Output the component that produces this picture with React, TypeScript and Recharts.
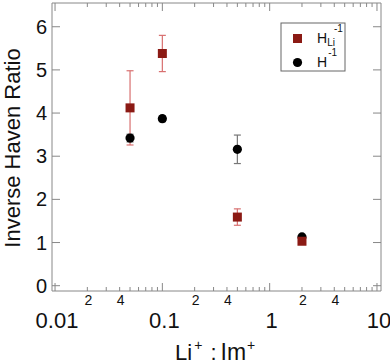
import React from 'react';
import { ScatterChart, Scatter, XAxis, YAxis, ErrorBar } from 'recharts';

const ratios = [0.05, 0.1, 0.5, 2];
const hLiValues = [4.12, 5.38, 1.59, 1.03];
const hLiErrors = [0.86, 0.42, 0.19, 0.03];
const hValues = [3.42, 3.87, 3.16, 1.13];
const hErrors = [0.09, 0.07, 0.33, 0.02];

const majorXTicks = [0.01, 0.1, 1, 10];
const xTicks = [
  0.01, 0.02, 0.03, 0.04, 0.05, 0.06, 0.07, 0.08, 0.09,
  0.1, 0.2, 0.3, 0.4, 0.5, 0.6, 0.7, 0.8, 0.9,
  1, 2, 3, 4, 5, 6, 7, 8, 9, 10,
];
const minorXLabels: Record<string, string> = { '0.02': '2', '0.04': '4', '0.2': '2', '0.4': '4', '2': '2', '4': '4' };
const yTicks = [0, 1, 2, 3, 4, 5, 6];

const xAxisTitle = 'Li';
const yAxisTitle = 'Inverse Haven Ratio';

const hLiData = ratios.map((r, i) => ({ x: r, y: hLiValues[i], err: hLiErrors[i] }));
const hData = ratios.map((r, i) => ({ x: r, y: hValues[i], err: hErrors[i] }));

const FONT = '"Liberation Sans", Arial, Helvetica, sans-serif';
const AXIS = '#888';
const RED = '#8b1a14';
const RED_ERR = '#d87070';
const GRAY_ERR = '#777';

const X_DOMAIN: [number, number] = [0.00937, 10.9];
const Y_DOMAIN: [number, number] = [-0.123, 6.55];

const isMajor = (v: number) => majorXTicks.includes(v);

const BottomTick = (props: any) => {
  const { payload } = props;
  const x = Number(props.x);
  const y = Number(props.y);
  const v = payload.value;
  const major = isMajor(v);
  const lbl = minorXLabels[String(v)];
  const s = String(v);
  return (
    <g>
      <line x1={x} x2={x} y1={y} y2={y - (major ? 8 : 4)} stroke={AXIS} />
      {major && (
        <text x={x + 2} y={y + 37} textAnchor="middle" fontSize={22} fontFamily={FONT} fill="#111">
          {s}
        </text>
      )}
      {!major && lbl && (
        <text x={x + 1} y={y + 14} textAnchor="middle" fontSize={14} fontFamily={FONT} fill="#111">
          {lbl}
        </text>
      )}
    </g>
  );
};

const TopTick = (props: any) => {
  const { x, y, payload } = props;
  const major = isMajor(payload.value);
  return <line x1={x} x2={x} y1={y} y2={y + (major ? 8 : 4)} stroke={AXIS} />;
};

const LeftTick = (props: any) => {
  const { x, y, payload } = props;
  return (
    <g>
      <line x1={x} x2={x + 8} y1={y} y2={y} stroke={AXIS} />
      <text x={x - 5} y={y + 7} textAnchor="end" fontSize={20} fontFamily={FONT} fill="#111">
        {payload.value}
      </text>
    </g>
  );
};

const RightTick = (props: any) => {
  const { x, y } = props;
  return <line x1={x} x2={x - 8} y1={y} y2={y} stroke={AXIS} />;
};

const Square = (props: any) => {
  const { cx, cy } = props;
  return <rect x={cx - 4.5} y={cy - 4.5} width={9} height={9} fill={RED} />;
};

const Dot = (props: any) => {
  const { cx, cy } = props;
  return <circle cx={cx} cy={cy} r={4.6} fill="#000" />;
};

const XTitle = () => (
  <text x={175} y={360} fontSize={22} fontFamily={FONT} fill="#111">
    {xAxisTitle}
    <tspan fontSize={14} dy={-10} dx={2}>+</tspan>
    <tspan fontSize={22} dy={10} dx={2}> :</tspan>
    <tspan fontSize={23} dx={4}>Im</tspan>
    <tspan fontSize={14} dy={-10} dx={1}>+</tspan>
  </text>
);

const YTitle = () => (
  <text
    x={20}
    y={148}
    fontSize={22}
    fontFamily={FONT}
    fill="#111"
    textAnchor="middle"
    transform="rotate(-90, 20, 148)"
  >
    {yAxisTitle}
  </text>
);

const LegendBox = () => (
  <g fontFamily={FONT} fill="#111">
    <rect x={281} y={23} width={64} height={48} fill="#fff" stroke="#666" />
    <rect x={293} y={34} width={9} height={9} fill={RED} />
    <text x={317} y={43} fontSize={14}>
      H
      <tspan fontSize={10} dy={3}>Li</tspan>
      <tspan fontSize={10} dy={-14} dx={-1}>-1</tspan>
    </text>
    <circle cx={297.5} cy={62.5} r={4.6} fill="#000" />
    <text x={317} y={67} fontSize={14}>
      H
      <tspan fontSize={10} dy={-11} dx={1}>-1</tspan>
    </text>
  </g>
);

export default function App() {
  return (
    <div style={{ position: 'absolute', left: 0, top: 0, fontFamily: FONT }}>
      <ScatterChart width={390} height={364} margin={{ top: 2, right: 8, bottom: 72, left: 51 }}>
        <XAxis
          xAxisId="bottom"
          type="number"
          dataKey="x"
          scale="log"
          domain={X_DOMAIN}
          allowDataOverflow
          ticks={xTicks}
          interval={0}
          height={1}
          tickSize={0}
          tickMargin={0}
          tickLine={false}
          tick={<BottomTick />}
          axisLine={{ stroke: AXIS }}
          label={<XTitle />}
        />
        <XAxis
          xAxisId="top"
          orientation="top"
          type="number"
          dataKey="x"
          scale="log"
          domain={X_DOMAIN}
          allowDataOverflow
          ticks={xTicks}
          interval={0}
          height={1}
          tickSize={0}
          tickMargin={0}
          tickLine={false}
          tick={<TopTick />}
          axisLine={{ stroke: AXIS }}
          label={<LegendBox />}
        />
        <YAxis
          yAxisId="left"
          type="number"
          dataKey="y"
          domain={Y_DOMAIN}
          allowDataOverflow
          ticks={yTicks}
          interval={0}
          width={1}
          tickSize={0}
          tickMargin={0}
          tickLine={false}
          tick={<LeftTick />}
          axisLine={{ stroke: AXIS }}
          label={<YTitle />}
        />
        <YAxis
          yAxisId="right"
          orientation="right"
          type="number"
          dataKey="y"
          domain={Y_DOMAIN}
          allowDataOverflow
          ticks={yTicks}
          interval={0}
          width={1}
          tickSize={0}
          tickMargin={0}
          tickLine={false}
          tick={<RightTick />}
          axisLine={{ stroke: AXIS }}
        />
        <Scatter name="H^-1" data={hData} xAxisId="bottom" yAxisId="left" shape={Dot} isAnimationActive={false}>
          <ErrorBar dataKey="err" direction="y" width={3.5} stroke={GRAY_ERR} strokeWidth={1.2} />
        </Scatter>
        <Scatter name="H_Li^-1" data={hLiData} xAxisId="bottom" yAxisId="left" shape={Square} isAnimationActive={false}>
          <ErrorBar dataKey="err" direction="y" width={3.5} stroke={RED_ERR} strokeWidth={1.2} />
        </Scatter>
      </ScatterChart>
    </div>
  );
}
